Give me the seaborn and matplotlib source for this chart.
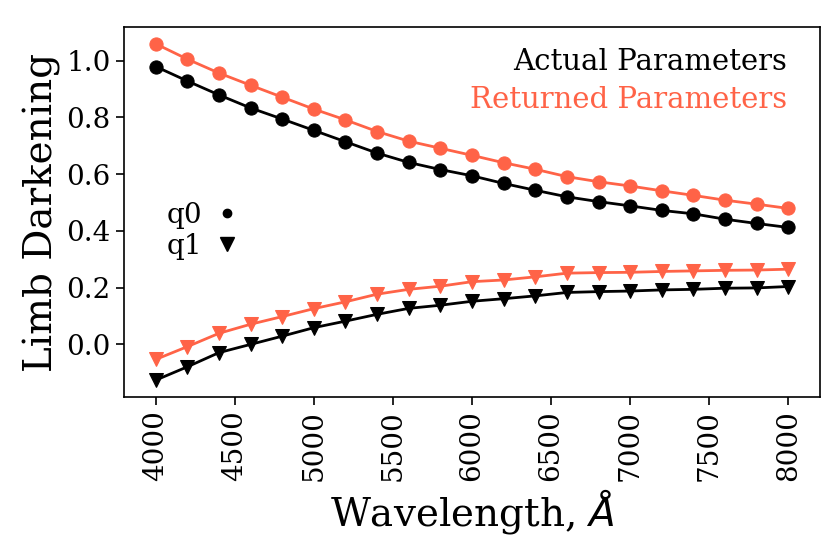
import numpy as np
import matplotlib
matplotlib.use("Agg")
import matplotlib.pyplot as plt
from matplotlib.lines import Line2D
import seaborn as sns

# wavelength grid (Angstrom)
wavelength = [4000, 4200, 4400, 4600, 4800, 5000, 5200, 5400, 5600, 5800, 6000,
              6200, 6400, 6600, 6800, 7000, 7200, 7400, 7600, 7800, 8000]

# limb darkening coefficients
q0_actual = [0.979, 0.928, 0.879, 0.833, 0.794, 0.754, 0.714, 0.674, 0.641, 0.616, 0.594,
             0.567, 0.543, 0.520, 0.503, 0.488, 0.472, 0.460, 0.441, 0.426, 0.412]
q0_returned = [1.059, 1.005, 0.956, 0.913, 0.871, 0.829, 0.791, 0.750, 0.716, 0.691, 0.666,
               0.640, 0.617, 0.591, 0.573, 0.558, 0.541, 0.525, 0.508, 0.494, 0.479]
q1_actual = [-0.126, -0.079, -0.029, 0.000, 0.029, 0.059, 0.082, 0.106, 0.127, 0.138, 0.152,
             0.161, 0.171, 0.183, 0.186, 0.188, 0.192, 0.194, 0.198, 0.199, 0.204]
q1_returned = [-0.053, -0.008, 0.039, 0.071, 0.098, 0.126, 0.150, 0.177, 0.194, 0.205, 0.221,
               0.227, 0.238, 0.251, 0.253, 0.254, 0.257, 0.259, 0.261, 0.262, 0.265]

xticks = [4000, 4500, 5000, 5500, 6000, 6500, 7000, 7500, 8000]
yticks = [0.0, 0.2, 0.4, 0.6, 0.8, 1.0]

actual_color = "black"
returned_color = "tomato"

sns.set_style("ticks", {"axes.edgecolor": "black", "text.color": "black",
                        "axes.labelcolor": "black", "xtick.color": "black",
                        "ytick.color": "black"})
plt.rcParams["font.family"] = ["DejaVu Serif"]
plt.rcParams["mathtext.fontset"] = "dejavusans"

fig = plt.figure(figsize=(8.3, 5.54), dpi=100)
ax = fig.add_axes([0.1494, 0.2834, 0.8386, 0.6679])

ms = 9.5
lw = 2
sns.lineplot(x=wavelength, y=q0_returned, color=returned_color, marker="o", markersize=ms,
             markeredgecolor=returned_color, lw=lw, ax=ax)
sns.lineplot(x=wavelength, y=q0_actual, color=actual_color, marker="o", markersize=ms,
             markeredgecolor=actual_color, lw=lw, ax=ax)
sns.lineplot(x=wavelength, y=q1_returned, color=returned_color, marker="v", markersize=ms + 1,
             markeredgecolor=returned_color, lw=lw, ax=ax)
sns.lineplot(x=wavelength, y=q1_actual, color=actual_color, marker="v", markersize=ms + 1,
             markeredgecolor=actual_color, lw=lw, ax=ax)

ax.set_xticks(xticks)
ax.set_yticks(yticks)
ax.tick_params(axis="x", labelrotation=90, labelsize=20, length=6, width=1.2)
ax.tick_params(axis="y", labelsize=20, length=6, width=1.2)
for s in ax.spines.values():
    s.set_linewidth(1.2)

ax.set_xlabel(r"Wavelength, $\AA$", fontsize=28)
ax.set_ylabel("Limb Darkening", fontsize=28)

ax.text(0.953, 0.906, "Actual Parameters", color=actual_color, fontsize=21,
        ha="right", va="center", transform=ax.transAxes)
ax.text(0.953, 0.803, "Returned Parameters", color=returned_color, fontsize=21,
        ha="right", va="center", transform=ax.transAxes)

handles = [Line2D([], [], ls="none", marker="o", color="black", markersize=6),
           Line2D([], [], ls="none", marker="v", color="black", markersize=10)]
ax.legend(handles, ["q0", "q1"], loc="center left", bbox_to_anchor=(0.061, 0.449),
          markerfirst=False, frameon=False, fontsize=20, handlelength=0.8,
          handletextpad=0.5, borderpad=0, borderaxespad=0, labelspacing=0.15)

fig.savefig("out.png", dpi=100)
